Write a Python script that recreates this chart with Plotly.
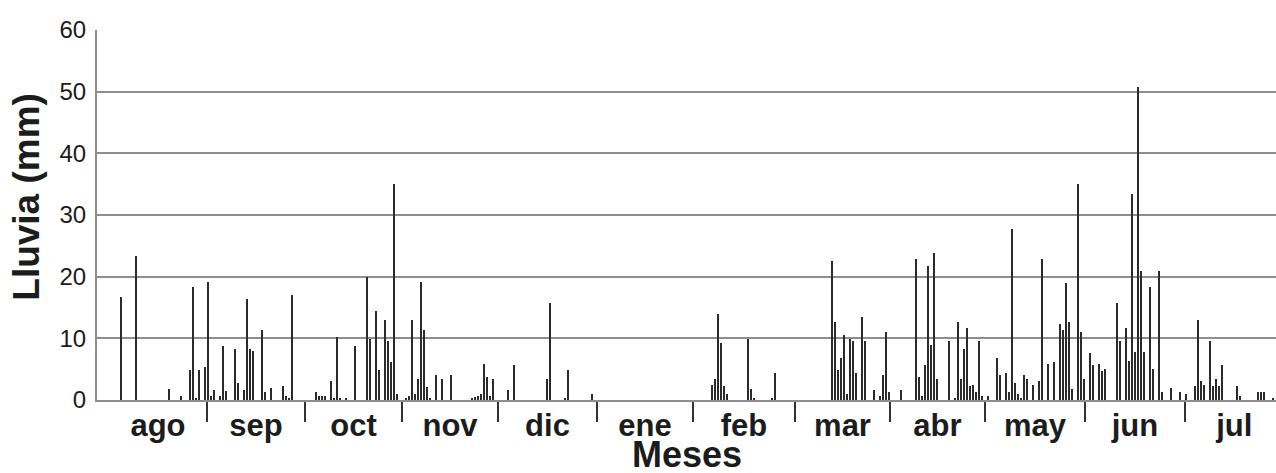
import plotly.graph_objects as go

# Daily rainfall record (day index from start of series, rain in mm)
days = [
    8, 13, 24, 28, 31, 32, 33, 34, 36, 37,
    38, 39, 41, 42, 43, 46, 47, 49, 50, 51, 52, 55, 56, 58, 62, 63, 64, 65,
    73, 74, 75, 76, 78, 79, 80, 81, 83, 86, 90, 91, 93, 94, 96, 97, 98, 99, 100,
    103, 104, 105, 106, 107, 108, 109, 110, 111, 113, 115, 118,
    125, 126, 127, 128, 129, 130, 131, 132,
    137, 139, 150, 151, 156, 157, 165,
    205, 206, 207, 208, 209, 210, 217, 218, 219, 225, 226,
    245, 246, 247, 248, 249, 250, 251, 252, 253, 255, 256, 259, 261, 262, 263, 264,
    268, 273, 274, 275, 276, 277, 278, 279, 280, 284, 286, 287, 288, 289, 290,
    291, 292, 293, 294, 295, 297,
    300, 301, 303, 304, 305, 306, 307, 308, 309, 310, 312, 314, 315, 317, 319,
    321, 322, 323, 324, 325, 327, 328, 329, 331,
    332, 334, 335, 336, 340, 341, 343, 344, 345, 346, 347, 348, 349, 351, 352,
    354, 355, 358, 361, 363,
    366, 367, 368, 369, 371, 372, 373, 374, 375, 380, 381, 387, 388, 389, 392,
]
rain_mm = [
    16.7, 23.4, 1.8, 0.6, 4.9, 18.3, 0.3, 4.9, 5.3, 19.1,
    0.6, 1.6, 0.6, 8.7, 1.5, 8.3, 2.8, 1.6, 16.4, 8.3, 8.0, 11.4, 1.3, 1.9, 2.2, 0.6, 0.3, 17.0,
    1.3, 0.6, 0.6, 0.6, 3.1, 0.3, 10.2, 0.3, 0.3, 8.7, 20.0, 9.9, 14.5, 4.9, 12.9, 9.5, 6.2, 35.0, 0.9,
    0.35, 0.65, 12.9, 0.9, 3.4, 19.1, 11.4, 2.1, 0.3, 4.0, 3.4, 4.0,
    0.3, 0.5, 0.65, 0.9, 5.9, 3.7, 0.65, 3.4,
    1.6, 5.6, 3.4, 15.7, 0.3, 4.9, 0.9,
    2.45, 3.4, 13.9, 9.3, 2.2, 0.9, 9.9, 1.85, 0.3, 0.3, 4.4,
    22.6, 12.7, 4.9, 6.8, 10.6, 0.9, 9.9, 9.5, 4.4, 13.4, 9.5, 1.6, 0.65, 4.0, 11.1, 1.3,
    1.6, 22.9, 3.7, 0.65, 5.6, 21.7, 9.0, 23.8, 3.4, 9.5, 0.3, 12.7, 3.4, 8.3, 11.7,
    2.2, 2.45, 1.3, 9.5, 0.65, 0.65,
    6.8, 4.0, 4.4, 1.3, 27.8, 2.8, 0.9, 0.4, 4.0, 3.4, 2.45, 3.1, 22.9, 5.9, 6.2,
    12.4, 11.4, 18.9, 12.7, 1.85, 35.0, 11.1, 3.4, 7.7,
    5.6, 5.9, 4.7, 5.0, 15.8, 9.6, 11.6, 6.3, 33.4, 7.8, 50.7, 21.0, 7.8, 18.3, 5.0,
    21.0, 1.3, 1.9, 1.3, 1.0,
    2.2, 12.9, 3.1, 2.45, 9.5, 2.2, 3.4, 2.2, 5.6, 2.2, 0.65, 1.3, 1.3, 1.3, 0.3,
]

# Month boundaries on the day axis and the month names between them
month_edges = [4.0, 36.67, 69.33, 101.67, 133.67, 166.67, 198.67,
               232.67, 264.33, 296.0, 329.33, 362.67, 395.5]
month_names = ["ago", "sep", "oct", "nov", "dic", "ene",
               "feb", "mar", "abr", "may", "jun", "jul"]
y_ticks = [0, 10, 20, 30, 40, 50, 60]

month_centers = [(a + b) / 2 for a, b in zip(month_edges[:-1], month_edges[1:])]
inner_edges = month_edges[1:-1]

FONT = "Liberation Sans, Arial, sans-serif"
GRID = "#8e8e8e"
INK = "#1c1c1c"

fig = go.Figure(
    go.Bar(
        x=days,
        y=rain_mm,
        width=0.5,
        marker=dict(color="#2b2b2b", line=dict(width=0)),
        hoverinfo="x+y",
    )
)

fig.update_layout(
    width=1276,
    height=473,
    margin=dict(l=97, r=0, t=30, b=73),
    paper_bgcolor="white",
    plot_bgcolor="white",
    showlegend=False,
    bargap=0,
    font=dict(family=FONT, color=INK),
    annotations=[
        dict(
            text="<b>Meses</b>",
            xref="paper", yref="paper",
            x=0.5, y=-0.148,
            xanchor="center", yanchor="middle",
            showarrow=False,
            font=dict(size=36, family=FONT, color=INK),
        ),
        dict(
            text="<b>Lluvia (mm)</b>",
            xref="paper", yref="paper",
            x=-0.0595, y=0.549,
            xanchor="center", yanchor="middle",
            textangle=-90,
            showarrow=False,
            font=dict(size=37, family=FONT, color=INK),
        ),
    ],
)

fig.update_xaxes(
    range=[0, 393],
    tickmode="array",
    tickvals=month_centers,
    ticktext=month_names,
    ticks="outside",
    ticklen=1,
    tickcolor="rgba(0,0,0,0)",
    ticklabelstandoff=-4,
    tickfont=dict(size=31, family=FONT, color=INK, weight="bold"),
    showgrid=False,
    zeroline=False,
    showline=True,
    linecolor=GRID,
    linewidth=2,
    minor=dict(
        tickmode="array",
        tickvals=inner_edges,
        ticks="outside",
        ticklen=20,
        tickwidth=1.5,
        tickcolor="#333333",
        showgrid=False,
    ),
)

fig.update_yaxes(
    range=[0, 60],
    tickmode="array",
    tickvals=y_ticks,
    ticks="outside",
    ticklen=4,
    tickcolor="rgba(0,0,0,0)",
    tickfont=dict(size=24, family=FONT, color=INK),
    showgrid=True,
    gridcolor=GRID,
    gridwidth=2,
    zeroline=False,
    showline=True,
    linecolor=GRID,
    linewidth=2,
)

fig.write_html("out.html")
